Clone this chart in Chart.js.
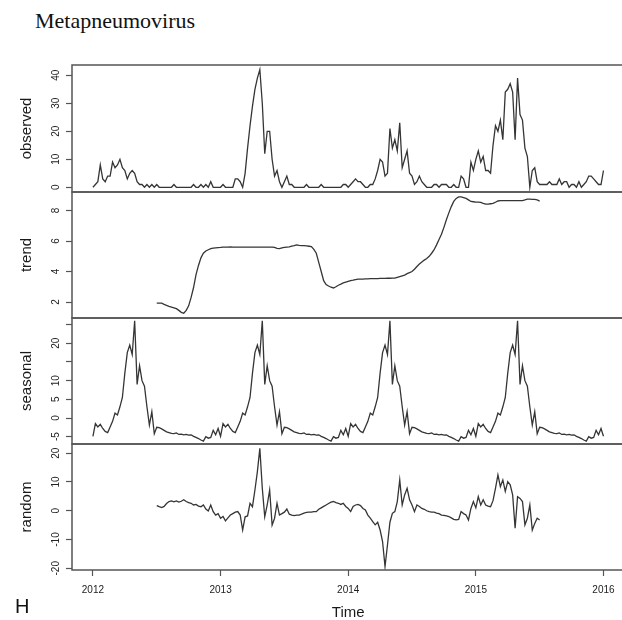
<!DOCTYPE html>
<html>
<head>
<meta charset="utf-8">
<script src="https://cdn.jsdelivr.net/npm/chart.js@4.4.1/dist/chart.umd.min.js"></script>
<style>
html,body{margin:0;padding:0;background:#fff;}
#wrap{position:relative;width:622px;height:620px;overflow:hidden;background:#fff;}
canvas{position:absolute;left:0;}
#title{position:absolute;left:35px;top:10px;font-family:"Liberation Serif","Times New Roman",serif;font-size:22px;line-height:22px;color:#111;white-space:nowrap;}
#letter{position:absolute;left:15px;top:596px;font-family:"Liberation Sans",Arial,sans-serif;font-size:20px;line-height:20px;color:#111;}
</style>
</head>
<body>
<div id="wrap">
  <div id="title">Metapneumovirus</div>
  <canvas id="p0"></canvas>
  <canvas id="p1"></canvas>
  <canvas id="p2"></canvas>
  <canvas id="p3"></canvas>
  <div id="letter">H</div>
</div>
<script>
// ---- data (weekly series, frequency 52, starting 2012 week 1) ----
const startYear = 2012;
const frequency = 52;

const observed = [
  0,1,2,8,3,2,4,4,9,7,
  8,10,7,6,3,5,6,5,2,1,
  1,0,1,0,1,0,1,0,0,0,
  0,0,0,1,0,0,0,0,0,0,
  0,1,0,0,1,0,1,0,2,0,
  0,0,0,1,0,0,0,0,3,3,
  2,0,5,14,22,29,35,39,42,30,
  12,20,20,10,4,6,2,0,2,4,
  1,1,0,0,0,0,0,1,0,0,
  0,0,0,1,0,0,0,0,0,0,
  0,0,1,1,0,1,2,3,2,2,
  1,0,0,1,1,3,6,10,9,4,
  5,21,14,17,13,23,7,10,13,5,
  4,1,2,4,2,1,0,0,0,1,
  1,0,1,1,1,0,0,1,0,0,
  4,3,0,0,9,6,10,13,9,11,
  6,6,5,15,22,20,24,17,34,35,
  37,34,17,39,26,24,14,11,0,6,
  7,2,1,1,1,1,2,1,1,1,
  3,1,2,2,0,1,1,0,2,0,
  1,2,4,4,3,2,1,1,6
];

// trend and random exist from week index 26 to 182 (moving-average edges are NA)
const trendStart = 26;
const trend = [
  1.93,1.93,1.93,1.85,1.78,1.72,1.67,1.62,1.56,1.45,
  1.32,1.26,1.45,1.75,2.30,2.95,3.80,4.40,4.90,5.20,
  5.35,5.43,5.50,5.53,5.55,5.57,5.58,5.60,5.60,5.60,
  5.61,5.60,5.60,5.60,5.60,5.60,5.60,5.60,5.60,5.60,
  5.60,5.60,5.60,5.60,5.60,5.60,5.60,5.60,5.58,5.52,
  5.50,5.55,5.58,5.60,5.62,5.66,5.70,5.75,5.72,5.70,
  5.70,5.68,5.66,5.64,5.45,5.20,4.60,4.00,3.40,3.15,
  3.05,2.97,2.92,3.00,3.10,3.17,3.25,3.30,3.35,3.40,
  3.43,3.47,3.50,3.50,3.50,3.52,3.52,3.53,3.53,3.53,
  3.54,3.55,3.55,3.55,3.56,3.56,3.57,3.57,3.62,3.67,
  3.72,3.77,3.86,3.93,4.00,4.15,4.33,4.49,4.62,4.75,
  4.86,5.00,5.20,5.43,5.75,6.10,6.45,6.90,7.40,7.85,
  8.26,8.60,8.80,8.90,8.90,8.85,8.80,8.70,8.60,8.58,
  8.56,8.55,8.54,8.48,8.43,8.43,8.45,8.47,8.55,8.63,
  8.65,8.65,8.65,8.65,8.65,8.65,8.65,8.65,8.65,8.66,
  8.70,8.75,8.75,8.74,8.73,8.70,8.62
];

// one year of the seasonal component (it repeats every year)
const seasonalCycle = [
  -4.9,-1.5,-2.4,-1.7,-2.8,-3.6,-3.9,-2.4,-0.9,1.3,
  0.8,3.0,5.5,12.0,17.5,19.5,17.0,26.0,9.0,14.0,
  10.0,8.5,3.0,-1.9,1.7,-4.2,-2.5,-2.6,-2.9,-3.3,
  -3.7,-3.9,-4.1,-4.2,-4.0,-4.4,-4.3,-4.5,-4.4,-4.6,
  -4.5,-4.9,-5.2,-5.5,-5.9,-6.2,-5.0,-5.4,-5.2,-3.3,
  -4.5,-2.8
];

const randomStart = 26;
const random = [
  1.8,1.4,1.1,1.5,2.5,3.2,3.4,3.1,3.4,3.0,
  3.3,3.8,3.2,2.8,2.6,2.0,2.2,1.6,1.4,2.0,
  0.6,-0.1,2.0,-0.3,-1.5,-1.0,-2.6,-2.0,-3.5,-2.5,
  -1.5,-1.0,-0.5,-0.3,-1.5,-6.7,-2.1,-1.8,2.6,1.4,
  7.2,13.6,21.7,7.8,-2.1,2.0,7.2,-5.0,-2.6,2.6,
  -1.5,-1.0,-0.5,0.6,-1.2,-1.5,-1.7,-1.5,-1.5,-1.2,
  -0.8,-0.6,-0.5,-0.5,-0.3,-0.3,0.5,1.0,1.5,2.0,
  2.5,3.0,3.2,2.8,2.6,2.2,2.6,1.5,0.8,-0.3,
  1.5,2.0,2.2,1.8,0.8,0.3,-1.5,-2.6,-3.8,-4.9,
  -4.0,-6.7,-10.7,-19.4,-11.9,-4.0,-0.9,-0.3,3.2,10.7,
  2.0,5.5,7.8,3.8,2.0,-0.3,2.0,1.5,0.8,0.5,
  0.0,-0.3,-0.5,-0.5,-0.8,-1.0,-1.5,-1.6,-1.8,-2.0,
  -2.5,-3.0,-3.2,-3.0,-0.3,-1.0,-1.5,-3.2,0.8,3.2,
  1.0,4.9,2.0,3.8,2.0,1.6,1.4,3.5,7.8,12.5,
  8.4,10.7,6.7,10.1,9.0,5.5,-6.1,4.9,4.3,3.2,
  -4.9,-2.6,2.0,-6.7,-4.4,-2.6,-3.2
];

// ---- axes / tick labels ----
const xTicks = [2012, 2013, 2014, 2015, 2016];
const observedTicks = [0, 10, 20, 30, 40];
const trendTicks = [2, 4, 6, 8];
const seasonalTicks = [-5, 0, 5, 10, 15, 20, 25];
const seasonalUnlabelled = [15, 25];
const randomTicks = [-20, -10, 0, 10, 20];
const panelNames = ['observed', 'trend', 'seasonal', 'random'];
const xTitle = 'Time';

// ---- tables built from the arrays above ----
const t = (i) => startYear + i / frequency;
const obsPts = observed.map((v, i) => ({x: t(i), y: v}));
const trendPts = trend.map((v, k) => ({x: t(trendStart + k), y: v}));
const seasPts = observed.map((_, i) => ({x: t(i), y: seasonalCycle[i % frequency]}));
const randPts = random.map((v, k) => ({x: t(randomStart + k), y: v}));

// ---- layout ----
const FONT = '"Liberation Sans", Arial, sans-serif';
Chart.defaults.font.family = FONT;
Chart.defaults.color = '#222';
const LINE = '#353535';
const BOX = '#555';
const CW = 640;             // canvas width (right box edge falls just off the page)
const AREA_LEFT = 72;
const AREA_RIGHT = 624.4;
const X_MIN = 2011.836, X_MAX = 2016.164;
const TICK_LEN = 6;
const LABEL_CX = 56;        // centre of rotated y tick labels

const mctx = document.createElement('canvas').getContext('2d');
mctx.font = '10px ' + FONT;
function widest(labels){ return Math.max(...labels.map(s => mctx.measureText(String(s)).width)); }

const boxPlugin = {
  id: 'panelBox',
  afterDatasetsDraw(chart){
    const {ctx, chartArea: a} = chart;
    ctx.save();
    ctx.strokeStyle = BOX;
    ctx.lineWidth = 1.5;
    ctx.strokeRect(a.left, a.top, a.right - a.left, a.bottom - a.top);
    ctx.restore();
  }
};

function makePanel(id, pts, top, bottom, yMin, yMax, ticks, hidden, name, showX){
  const PAD = 8;
  const cv = document.getElementById(id);
  const canvasTop = top - PAD;
  const xAxisH = 50;
  const h = showX ? (620 - canvasTop) : (bottom - top + 2 * PAD);
  cv.width = CW; cv.height = h;
  cv.style.top = canvasTop + 'px';
  const shown = ticks.filter(v => !hidden.includes(v));
  const tickPad = (AREA_LEFT - TICK_LEN - LABEL_CX) - widest(shown) / 2;
  return new Chart(cv, {
    type: 'line',
    data: { datasets: [{ data: pts, borderColor: LINE, borderWidth: 1.3, pointRadius: 0, fill: false, tension: 0 }] },
    options: {
      responsive: false, animation: false, events: [],
      layout: { padding: { left: 0, right: CW - AREA_RIGHT, top: PAD, bottom: showX ? 0 : PAD } },
      plugins: { legend: {display: false}, tooltip: {enabled: false}, title: {display: false} },
      scales: {
        x: {
          type: 'linear', min: X_MIN, max: X_MAX, display: showX, position: 'bottom',
          afterBuildTicks: (s) => { s.ticks = xTicks.map(v => ({value: v})); },
          afterFit: (s) => { if (showX) { s.height = xAxisH; } else { s.height = 0; } s.paddingLeft = 0; s.paddingRight = 0; },
          grid: { drawOnChartArea: false, drawTicks: true, tickLength: TICK_LEN, tickColor: BOX, tickWidth: 1.2 },
          border: { display: false },
          ticks: { autoSkip: false, maxRotation: 0, minRotation: 0, padding: 8, font: {size: 10}, color: '#222',
                   callback: (v) => String(v) },
          title: { display: showX, text: xTitle, font: {size: 15, lineHeight: 1}, padding: 0, color: '#1a1a1a' }
        },
        y: {
          type: 'linear', min: yMin, max: yMax, position: 'left',
          afterBuildTicks: (s) => { s.ticks = ticks.map(v => ({value: v})); },
          afterFit: (s) => { s.width = AREA_LEFT; s.paddingTop = 0; s.paddingBottom = 0; },
          grid: { drawOnChartArea: false, drawTicks: true, tickLength: TICK_LEN, tickColor: BOX, tickWidth: 1.2 },
          border: { display: false },
          ticks: { autoSkip: false, minRotation: 90, maxRotation: 90, crossAlign: 'center', padding: tickPad,
                   font: {size: 10}, color: '#222',
                   callback: (v) => hidden.includes(v) ? '' : String(v) },
          title: { display: true, text: name, font: {size: 15, lineHeight: 1.2}, padding: {top: 18, bottom: 0}, color: '#1a1a1a' }
        }
      }
    },
    plugins: [boxPlugin]
  });
}

makePanel('p0', obsPts,   65, 192, -1.68, 43.68, observedTicks, [], panelNames[0], false);
makePanel('p1', trendPts, 192, 318, 0.95, 9.22, trendTicks, [], panelNames[1], false);
makePanel('p2', seasPts,  318, 444, -6.96, 26.77, seasonalTicks, seasonalUnlabelled, panelNames[2], false);
makePanel('p3', randPts,  444, 570, -20.6, 23.2, randomTicks, [], panelNames[3], true);
</script>
</body>
</html>
